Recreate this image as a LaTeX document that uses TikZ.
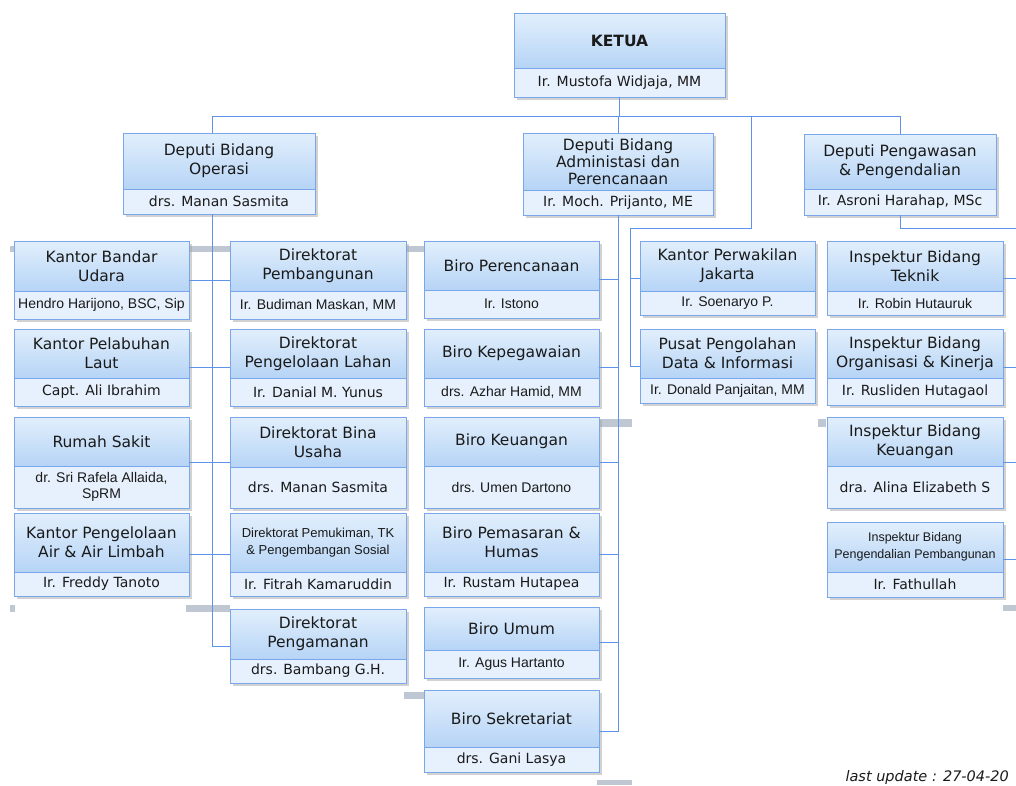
\documentclass[tikz,border=0pt]{standalone}
\usepackage{fontspec}
\setmainfont{DejaVu Sans}
\newfontfamily\narrowfont{Liberation Sans}
\usetikzlibrary{positioning,calc,shadows}
\definecolor{boxline}{HTML}{7AA7EC}
\definecolor{boxtop}{HTML}{E2EFFC}
\definecolor{boxbot}{HTML}{B6D4F6}
\definecolor{namefill}{HTML}{E7F1FD}
\definecolor{linkblue}{HTML}{5E93EA}
\definecolor{gapgrey}{HTML}{BFC8D2}
\definecolor{inktext}{HTML}{1A1A1A}
\begin{document}
\begin{tikzpicture}[x=1pt, y=-1pt,
	titlebox/.style={draw=boxline, line width=0.9pt, top color=boxtop, bottom color=boxbot,
		align=center, inner xsep=2pt, inner ysep=2pt, outer sep=0pt, text=inktext,
		font=\fontsize{15.5}{19}\selectfont,
		drop shadow={shadow xshift=2.5pt, shadow yshift=-2.5pt, fill=black!35}},
	namebox/.style={draw=boxline, line width=0.9pt, fill=namefill,
		align=center, inner xsep=2pt, inner ysep=1pt, outer sep=0pt, text=inktext,
		font=\fontsize{14}{16}\selectfont,
		drop shadow={shadow xshift=2.5pt, shadow yshift=-2.5pt, fill=black!35}},
	link/.style={draw=linkblue, line width=0.9pt},
	gapbar/.style={fill=gapgrey}]
	\useasboundingbox (0,0) rectangle (1016,785);
	\clip (0,0) rectangle (1016,785);

	\fill[gapbar] (10,246) rectangle (14,252);
	\fill[gapbar] (186,246) rectangle (230,252);
	\fill[gapbar] (404,246) rectangle (424,252);
	\fill[gapbar] (10,605) rectangle (15,612);
	\fill[gapbar] (186,605) rectangle (230,612);
	\fill[gapbar] (595,419) rectangle (632,427);
	\fill[gapbar] (818,419) rectangle (826,427);
	\fill[gapbar] (404,692) rectangle (425,699);
	\fill[gapbar] (597,780) rectangle (632,785);
	\fill[gapbar] (1003,605) rectangle (1016,611);

	% pimpinan
	\node[titlebox, minimum width=211, minimum height=55, anchor=north west] (ketua) at (514,13) {\bfseries KETUA};
	\node[namebox, minimum width=211, minimum height=29, below=0pt of ketua] (ketua-n) {Ir. Mustofa Widjaja, MM};

	\node[titlebox, minimum width=192, minimum height=56, anchor=north west] (depops) at (123,133) {Deputi Bidang\\Operasi};
	\node[namebox, minimum width=192, minimum height=25, below=0pt of depops] (depops-n) {drs. Manan Sasmita};
	\node[titlebox, minimum width=190, minimum height=57, anchor=north west, font=\fontsize{15.5}{17}\selectfont] (depadm) at (523,133) {Deputi Bidang\\Administasi dan\\Perencanaan};
	\node[namebox, minimum width=190, minimum height=25, below=0pt of depadm] (depadm-n) {Ir. Moch. Prijanto, ME};
	\node[titlebox, minimum width=192, minimum height=55, anchor=north west] (depwas) at (804,134) {Deputi Pengawasan\\\& Pengendalian};
	\node[namebox, minimum width=192, minimum height=26, below=0pt of depwas] (depwas-n) {Ir. Asroni Harahap, MSc};

	% kantor
	\node[titlebox, minimum width=175, minimum height=50, anchor=north west] (bandar) at (14,241) {Kantor Bandar\\Udara};
	\node[namebox, minimum width=175, minimum height=28, below=0pt of bandar] (bandar-n) {\narrowfont Hendro Harijono, BSC, Sip};
	\node[titlebox, minimum width=175, minimum height=49, anchor=north west] (pelabuhan) at (14,329) {Kantor Pelabuhan\\Laut};
	\node[namebox, minimum width=175, minimum height=28, below=0pt of pelabuhan] (pelabuhan-n) {Capt. Ali Ibrahim};
	\node[titlebox, minimum width=175, minimum height=49, anchor=north west] (rumahsakit) at (14,417) {Rumah Sakit};
	\node[namebox, minimum width=175, minimum height=42, below=0pt of rumahsakit] (rumahsakit-n) {\narrowfont dr. Sri Rafela Allaida,\\\narrowfont SpRM};
	\node[titlebox, minimum width=175, minimum height=59, anchor=north west] (airlimbah) at (14,513) {Kantor Pengelolaan\\Air \& Air Limbah};
	\node[namebox, minimum width=175, minimum height=24, below=0pt of airlimbah] (airlimbah-n) {Ir. Freddy Tanoto};

	% direktorat
	\node[titlebox, minimum width=176, minimum height=50, anchor=north west] (pembangunan) at (230,241) {Direktorat\\Pembangunan};
	\node[namebox, minimum width=176, minimum height=28, below=0pt of pembangunan] (pembangunan-n) {\narrowfont Ir. Budiman Maskan, MM};
	\node[titlebox, minimum width=176, minimum height=49, anchor=north west] (lahan) at (230,329) {Direktorat\\Pengelolaan Lahan};
	\node[namebox, minimum width=176, minimum height=28, below=0pt of lahan] (lahan-n) {Ir. Danial M. Yunus};
	\node[titlebox, minimum width=176, minimum height=50, anchor=north west] (binausaha) at (230,417) {Direktorat Bina\\Usaha};
	\node[namebox, minimum width=176, minimum height=41, below=0pt of binausaha] (binausaha-n) {drs. Manan Sasmita};
	\node[titlebox, minimum width=176, minimum height=59, anchor=north west, font=\narrowfont\fontsize{13}{17}\selectfont] (pemukiman) at (230,513) {Direktorat Pemukiman, TK\\\& Pengembangan Sosial};
	\node[namebox, minimum width=176, minimum height=24, below=0pt of pemukiman] (pemukiman-n) {Ir. Fitrah Kamaruddin};
	\node[titlebox, minimum width=176, minimum height=50, anchor=north west] (pengamanan) at (230,609) {Direktorat\\Pengamanan};
	\node[namebox, minimum width=176, minimum height=24, below=0pt of pengamanan] (pengamanan-n) {drs. Bambang G.H.};

	% biro
	\node[titlebox, minimum width=175, minimum height=49, anchor=north west] (perencanaan) at (424,241) {Biro Perencanaan};
	\node[namebox, minimum width=175, minimum height=28, below=0pt of perencanaan] (perencanaan-n) {\narrowfont Ir. Istono};
	\node[titlebox, minimum width=175, minimum height=49, anchor=north west] (kepegawaian) at (424,329) {Biro Kepegawaian};
	\node[namebox, minimum width=175, minimum height=28, below=0pt of kepegawaian] (kepegawaian-n) {\narrowfont drs. Azhar Hamid, MM};
	\node[titlebox, minimum width=175, minimum height=49, anchor=north west] (keuangan) at (424,417) {Biro Keuangan};
	\node[namebox, minimum width=175, minimum height=42, below=0pt of keuangan] (keuangan-n) {\narrowfont drs. Umen Dartono};
	\node[titlebox, minimum width=175, minimum height=59, anchor=north west] (pemasaran) at (424,513) {Biro Pemasaran \&\\Humas};
	\node[namebox, minimum width=175, minimum height=24, below=0pt of pemasaran] (pemasaran-n) {Ir. Rustam Hutapea};
	\node[titlebox, minimum width=175, minimum height=43, anchor=north west] (umum) at (424,607) {Biro Umum};
	\node[namebox, minimum width=175, minimum height=28, below=0pt of umum] (umum-n) {\narrowfont Ir. Agus Hartanto};
	\node[titlebox, minimum width=175, minimum height=57, anchor=north west] (sekretariat) at (424,690) {Biro Sekretariat};
	\node[namebox, minimum width=175, minimum height=25, below=0pt of sekretariat] (sekretariat-n) {drs. Gani Lasya};

	% langsung di bawah ketua
	\node[titlebox, minimum width=175, minimum height=50, anchor=north west] (perwakilan) at (640,241) {Kantor Perwakilan\\Jakarta};
	\node[namebox, minimum width=175, minimum height=24, below=0pt of perwakilan] (perwakilan-n) {\narrowfont Ir. Soenaryo P.};
	\node[titlebox, minimum width=175, minimum height=49, anchor=north west] (pusatdata) at (640,329) {Pusat Pengolahan\\Data \& Informasi};
	\node[namebox, minimum width=175, minimum height=25, below=0pt of pusatdata] (pusatdata-n) {\narrowfont Ir. Donald Panjaitan, MM};

	% inspektur
	\node[titlebox, minimum width=176, minimum height=50, anchor=north west] (teknik) at (827,241) {Inspektur Bidang\\Teknik};
	\node[namebox, minimum width=176, minimum height=24, below=0pt of teknik] (teknik-n) {\narrowfont Ir. Robin Hutauruk};
	\node[titlebox, minimum width=176, minimum height=49, anchor=north west] (organisasi) at (827,329) {Inspektur Bidang\\Organisasi \& Kinerja};
	\node[namebox, minimum width=176, minimum height=27, below=0pt of organisasi] (organisasi-n) {Ir. Rusliden Hutagaol};
	\node[titlebox, minimum width=176, minimum height=49, anchor=north west] (inskeuangan) at (827,417) {Inspektur Bidang\\Keuangan};
	\node[namebox, minimum width=176, minimum height=42, below=0pt of inskeuangan] (inskeuangan-n) {dra. Alina Elizabeth S};
	\node[titlebox, minimum width=176, minimum height=50, anchor=north west, font=\narrowfont\fontsize{12.5}{17}\selectfont] (pengendalian) at (827,522) {Inspektur Bidang\\Pengendalian Pembangunan};
	\node[namebox, minimum width=176, minimum height=25, below=0pt of pengendalian] (pengendalian-n) {Ir. Fathullah};

	\node[anchor=west, text=inktext, font=\itshape\fontsize{14.5}{17}\selectfont] (lastupdate) at (842,777) {last update : 27-04-20};

	% garis
	\coordinate (bus) at (0,116);
	\coordinate (kantorfork) at (751,228);
	\coordinate (kantorbend) at (630,228);
	\coordinate (wastrunk) at (1030,228);
	\coordinate (opstrunk) at ([xshift=-7pt]depops-n.south);
	\draw[link] (ketua-n.south) -- (ketua-n.south |- bus);
	\draw[link] ([xshift=-7pt]depops.north) |- (depwas.north |- bus) -- (depwas.north);
	\draw[link] (depadm.north) -- (depadm.north |- bus);
	\draw[link] (kantorfork |- bus) -- (kantorfork) -- (kantorbend);
	\foreach \b in {perwakilan,pusatdata}
		\draw[link] (kantorbend) |- ($(\b.north west)!.5!(\b-n.south west)$);
	\draw[link] (opstrunk) |- ($(pengamanan.north west)!.5!(pengamanan-n.south west)$);
	\foreach \l/\r in {bandar/pembangunan,pelabuhan/lahan,rumahsakit/binausaha,airlimbah/pemukiman}
		\draw[link] ($(\l.north east)!.5!(\l-n.south east)$) -- ($(\r.north west)!.5!(\r-n.south west)$);
	\foreach \b in {perencanaan,kepegawaian,keuangan,pemasaran,umum,sekretariat}
		\draw[link] (depadm-n.south) |- ($(\b.north east)!.5!(\b-n.south east)$);
	\draw[link] (depwas-n.south) |- (wastrunk);
	\foreach \b in {teknik,organisasi,inskeuangan,pengendalian}
		\draw[link] (wastrunk) |- ($(\b.north east)!.5!(\b-n.south east)$);
\end{tikzpicture}
\end{document}
